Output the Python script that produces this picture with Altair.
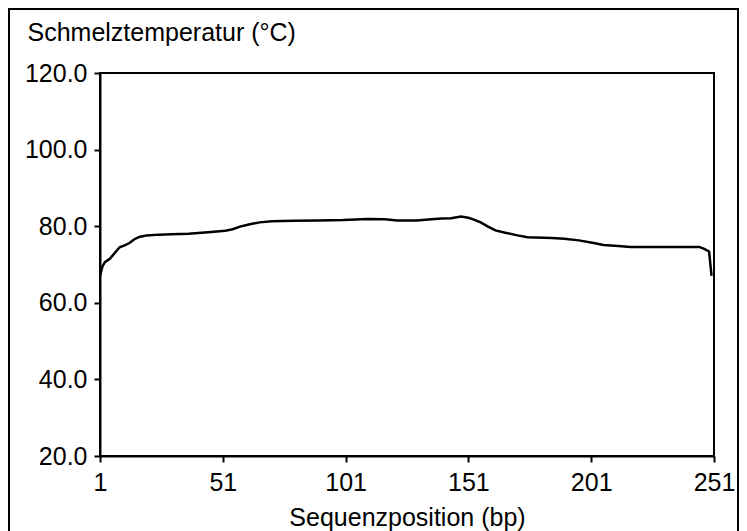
import altair as alt
import pandas as pd

# Sequence position (bp) and melting temperature (°C)
positions = [1, 2, 3, 5, 7, 9, 11, 13, 15, 17, 20, 25, 30, 37, 45, 52, 55, 58,
             62, 66, 71, 80, 90, 100, 110, 117, 122, 130, 136, 140, 144, 148,
             151, 153, 156, 159, 162, 166, 171, 175, 185, 190, 196, 202, 206,
             212, 217, 230, 245, 247, 249, 250]
temps = [67.0, 69.5, 70.6, 71.5, 73.0, 74.5, 75.0, 75.6, 76.6, 77.2, 77.6, 77.8,
         77.9, 78.0, 78.4, 78.8, 79.2, 79.9, 80.5, 81.0, 81.3, 81.4, 81.5, 81.6,
         81.9, 81.8, 81.5, 81.5, 81.8, 82.0, 82.1, 82.5, 82.2, 81.8, 81.0, 79.9,
         78.9, 78.3, 77.6, 77.1, 76.9, 76.7, 76.3, 75.6, 75.1, 74.8, 74.6, 74.6,
         74.6, 74.1, 73.4, 67.0]
x_ticks = [1, 51, 101, 151, 201, 251]
y_ticks = [20, 40, 60, 80, 100, 120]

df = pd.DataFrame({"pos": positions, "tm": temps})

FONT = "Liberation Sans"
FS = 25
W = 614

line = alt.Chart(df).mark_line(color="black", strokeWidth=2.5).encode(
    x=alt.X("pos:Q",
            scale=alt.Scale(domain=[1, 251], nice=False, zero=False),
            axis=alt.Axis(values=x_ticks, title="Sequenzposition (bp)",
                          titleY=69, titleBaseline="alphabetic",
                          titleFontWeight="normal", titleFontSize=FS,
                          titleFont=FONT, titleColor="black",
                          labelFontSize=FS, labelFont=FONT, labelColor="black",
                          labelPadding=8, tickSize=6, tickWidth=2,
                          tickColor="black", domainColor="black",
                          domainWidth=2, grid=False, labelFlush=False)),
    y=alt.Y("tm:Q",
            scale=alt.Scale(domain=[20, 120], nice=False, zero=False),
            axis=alt.Axis(values=y_ticks, format=".1f",
                          title="Schmelztemperatur (°C)",
                          titleAngle=0, titleAlign="left",
                          titleBaseline="alphabetic", titleX=-73, titleY=-33,
                          titleFontWeight="normal", titleFontSize=FS,
                          titleFont=FONT, titleColor="black",
                          labelFontSize=FS, labelFont=FONT, labelColor="black",
                          labelPadding=7, tickSize=6, tickWidth=2,
                          tickColor="black", domainColor="black",
                          domainWidth=2, grid=False)),
)

frame = alt.Chart(pd.DataFrame({"k": [0]})).mark_rect(
    fill=None, stroke="black", strokeWidth=2, clip=False
).encode(
    x=alt.value(-91), x2=alt.value(638),
    y=alt.value(-64), y2=alt.value(480),
)

chart = alt.layer(frame, line).properties(
    width=W, height=383,
    autosize=alt.AutoSizeParams(type="none"),
    padding={"left": 92, "top": 65, "right": 731 - 92 - W, "bottom": 84},
    background="white",
).configure_view(
    stroke="black", strokeWidth=2
)

chart.save("out.html", embed_options={"renderer": "svg", "actions": False})
